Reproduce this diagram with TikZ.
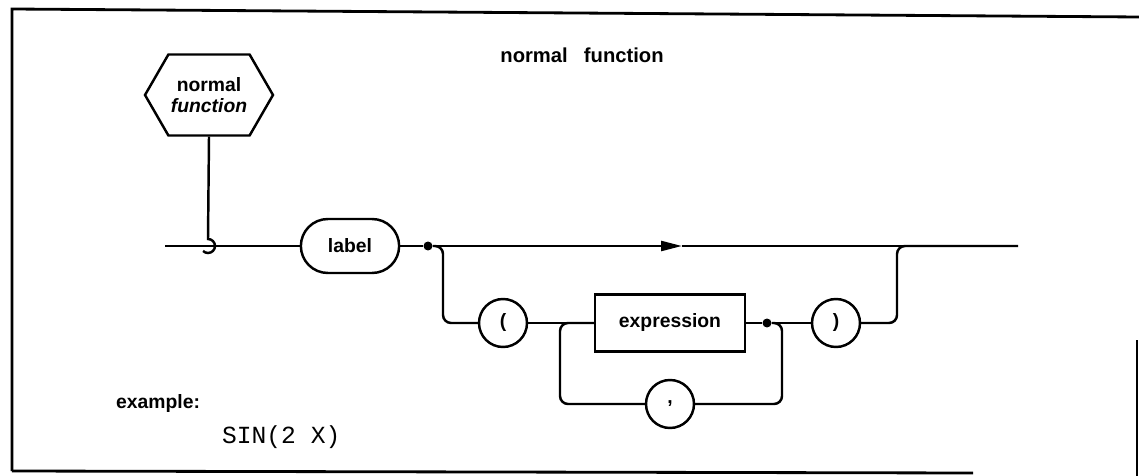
\documentclass[tikz,border=0pt]{standalone}
\usepackage{fontspec}
\setmainfont{Liberation Sans}
\setmonofont{Liberation Mono}
\usetikzlibrary{positioning, arrows.meta, shapes.misc, shapes.symbols}

\tikzset{
  syn/.style={font=\bfseries\fontsize{11}{13}\selectfont},
  term/.style={syn, circle, draw, line width=1.4pt, minimum size=0.96cm, inner sep=0pt},
  nonterm/.style={syn, rectangle, draw, line width=1.4pt, minimum width=3cm, minimum height=1.14cm},
  entry/.style={syn, rounded rectangle, draw, line width=1.4pt, minimum width=2.2cm, minimum height=1.08cm},
  hexa/.style={signal, signal to=west and east, signal pointer angle=120, draw, line width=1.4pt,
    minimum width=2.56cm, minimum height=1.62cm, align=center, inner sep=1pt,
    font=\bfseries\fontsize{11}{11.5}\selectfont},
  dot/.style={circle, fill, inner sep=0pt, minimum size=0.18cm},
  wire/.style={line width=1.4pt, rounded corners=0.16cm},
  frame/.style={line width=1.6pt},
}

\begin{document}
\begin{tikzpicture}[x=0.02cm, y=-0.02cm]
    \useasboundingbox (0,0) rectangle (1139,476);

    % Frame
    \draw[frame] (12,471) -- (12,9) -- (1139,17);
    \draw[frame] (12,471) -- (973,473);
    \draw[frame] (1137,340) -- (1137,476);

    % Title
    \node[font=\bfseries\fontsize{11.5}{13}\selectfont] (title) at (582,55) {normal\hspace{0.8em}function};

    % Syntax elements
    \node[hexa] (hex) at (209,95) {normal\\\textit{function}};
    \node[entry] (lbl) at (350,246) {label};
    \node[term] (lp) at (503,323) {(};
    \node[nonterm] (expr) at (670,323) {expression};
    \node[term] (rp) at (836,323) {)};
    \node[term] (comma) at (670,404) {,};
    \node[dot] (d1) at (428,246) {};
    \node[dot] (d2) at (767,323) {};

    \coordinate (start) at (165,246);
    \coordinate (hook) at (208,239);
    \coordinate (arr) at (682,246);
    \coordinate (end) at (1018,246);
    \coordinate (b1) at (443,323);
    \coordinate (b2) at (897,246);
    \coordinate (c1) at (560,404);
    \coordinate (c2) at (782,404);

    % Main line
    \draw[line width=1.4pt] (hex.south) -- (hook) arc[start angle=90, end angle=-135, radius=0.14cm];
    \draw[wire] (start) -- (lbl.west);
    \draw[wire] (lbl.east) -- (d1);
    \draw[wire, -{Triangle[length=0.42cm, width=0.2cm]}] (d1) -- (arr);
    \draw[wire] (arr) -- (end);

    % Optional argument list
    \draw[wire] (d1) -| (b1) -- (lp.west);
    \draw[wire] (lp.east) -- (expr.west);
    \draw[wire] (expr.east) -- (d2) -- (rp.west);
    \draw[wire] (rp.east) -| (b2) -- (end);
    \draw[wire] (expr.west) -| (c1) -- (comma.west);
    \draw[wire] (d2) -| (c2) -- (comma.east);

    % Example
    \node[anchor=west, syn] (ex) at (110,404) {example:};
    \node[anchor=west, font=\ttfamily\fontsize{14}{16}\selectfont] (code) at (216,437) {SIN(2 X)};

\end{tikzpicture}
\end{document}
